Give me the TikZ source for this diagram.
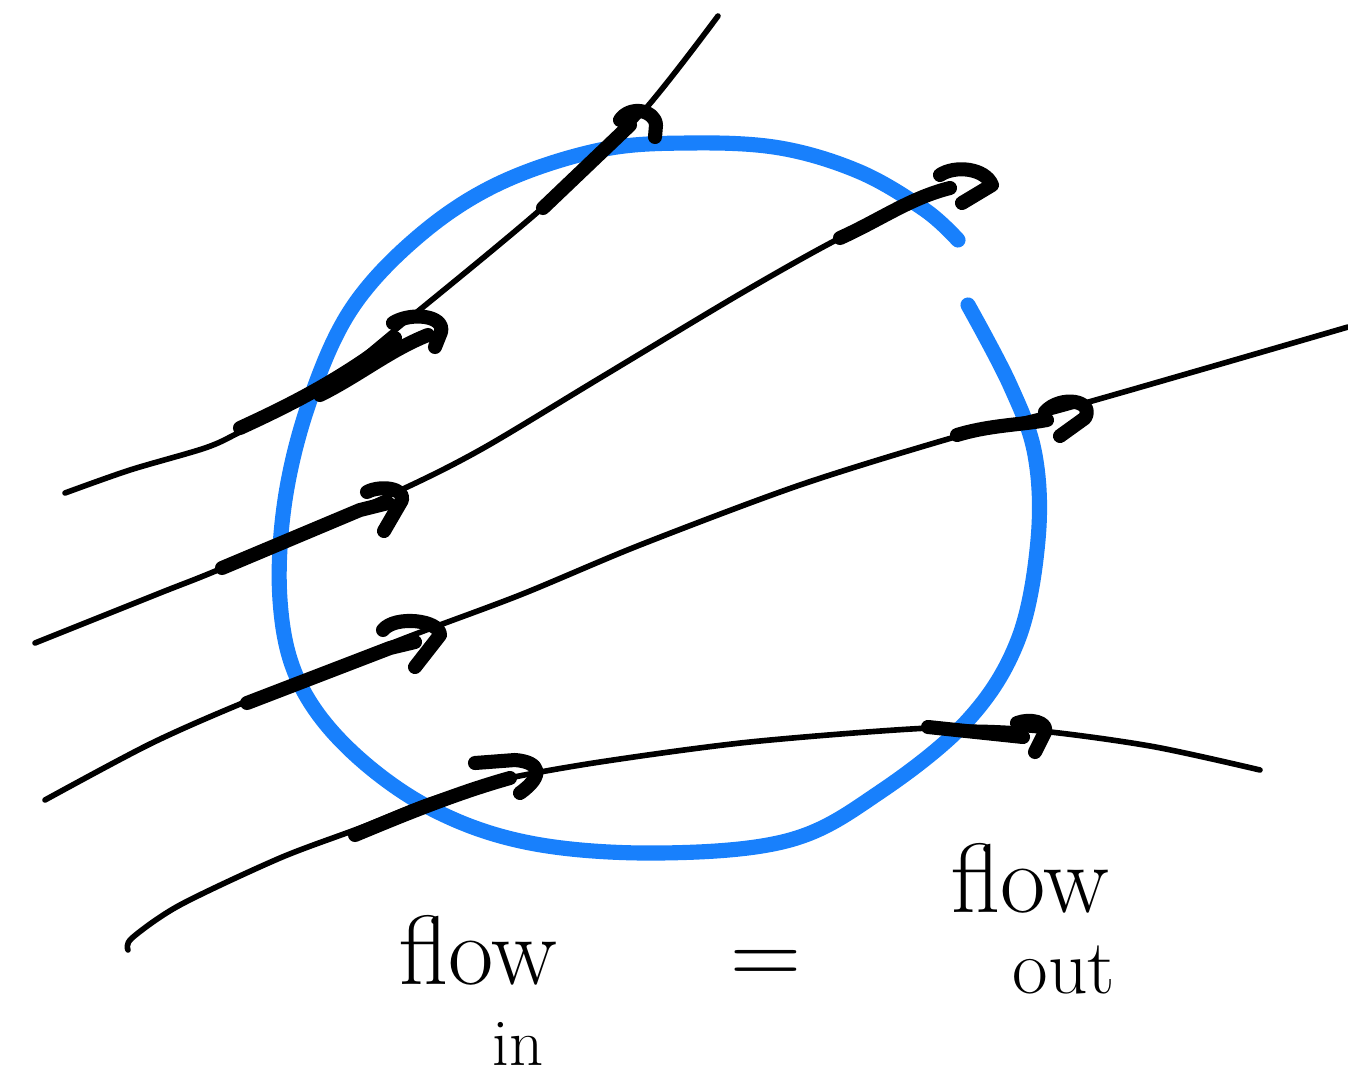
\documentclass[tikz,border=0pt]{standalone}
\usepackage{tikz}
\usetikzlibrary{positioning}
\definecolor{rimblue}{RGB}{24,128,252}

\begin{document}
\begin{tikzpicture}[x=0.01cm, y=-0.01cm,
  flowline/.style={black, line width=1.6pt, line cap=round, line join=round},
  rim/.style={rimblue, line width=4.3pt, line cap=round},
  fatstroke/.style={black, line width=4pt, line cap=round, line join=round},
  hookhead/.style={black, line width=4pt, line cap=round, line join=round},
  hand/.style={font=\fontsize{28}{28}\selectfont, inner sep=0pt}]
\useasboundingbox (0,0) rectangle (1348,1076);
% boundary curve, open at the upper right
\draw[rim] plot[smooth, tension=0.6] coordinates {
  (958,240) (925,210) (860,172) (780,148) (690,143) (600,150) (500,183)
  (420,235) (352,308) (310,400) (285,500) (280,600) (298,680) (348,748)
  (430,808) (530,843) (660,853) (790,840) (880,792) (968,720) (1018,640)
  (1038,540) (1035,455) (1010,385) (968,305)};
% flow lines
\draw[flowline] plot[smooth, tension=0.5] coordinates {
  (65,493) (130,470) (205,448) (240,432) (320,390) (395,330) (540,210)
  (640,115) (718,16)};
\draw[flowline] plot[smooth, tension=0.5] coordinates {
  (35,643) (160,593) (225,567) (390,495) (480,450) (600,378) (740,294)
  (840,238) (945,188)};
\draw[flowline] plot[smooth, tension=0.5] coordinates {
  (45,800) (150,744) (245,702) (400,640) (520,595) (640,545) (800,485)
  (955,437) (1060,410) (1200,370) (1348,327)};
\draw[flowline] plot[smooth, tension=0.5] coordinates {
  (128,950) (132,938) (180,905) (280,858) (360,828) (430,800) (500,780)
  (600,762) (750,742) (930,728) (1030,730) (1150,746) (1260,770)};
% arrows on the lines
\draw[fatstroke] (543,208) -- (630,125);
\draw[hookhead] (620,120) .. controls (630,105) and (655,110) .. (656,125) -- (655,137);
\draw[fatstroke] (240,428) .. controls (290,405) and (340,380) .. (395,338);
\draw[fatstroke] (320,395) .. controls (360,375) and (390,350) .. (428,335);
\draw[hookhead] (393,323) .. controls (410,312) and (445,315) .. (441,332) -- (435,347);
\draw[fatstroke] (222,568) -- (360,510) -- (388,503);
\draw[hookhead] (367,492) .. controls (380,485) and (405,488) .. (402,500) -- (384,531);
\draw[fatstroke] (840,238) .. controls (880,220) and (910,198) .. (950,188);
\draw[hookhead] (940,175) .. controls (955,165) and (985,168) .. (992,185) -- (962,203);
\draw[fatstroke] (247,703) -- (390,648) -- (415,642);
\draw[hookhead] (383,630) .. controls (395,615) and (440,620) .. (440,635) -- (415,667);
\draw[fatstroke] (957,435) .. controls (990,425) and (1020,425) .. (1047,420);
\draw[hookhead] (1045,412) .. controls (1060,395) and (1095,400) .. (1085,418) -- (1060,436);
\draw[fatstroke] (355,835) .. controls (410,812) and (460,792) .. (510,778);
\draw[hookhead] (475,763) -- (515,760) .. controls (540,762) and (545,775) .. (520,793);
\draw[fatstroke] (928,727) -- (1023,737);
\draw[hookhead] (1017,723) .. controls (1030,718) and (1048,722) .. (1045,732) -- (1035,752);
% handwritten labels
\node[hand] (flowin) at (478,950) {flow};
\node[hand, font=\fontsize{19}{19}\selectfont] (inword) at (518,1044) {in};
\node[hand] (equal) at (766,968) {=};
\node[hand] (flowout) at (1030,878) {flow};
\node[hand, font=\fontsize{22}{22}\selectfont] (outword) at (1064,970) {out};
\end{tikzpicture}
\end{document}
